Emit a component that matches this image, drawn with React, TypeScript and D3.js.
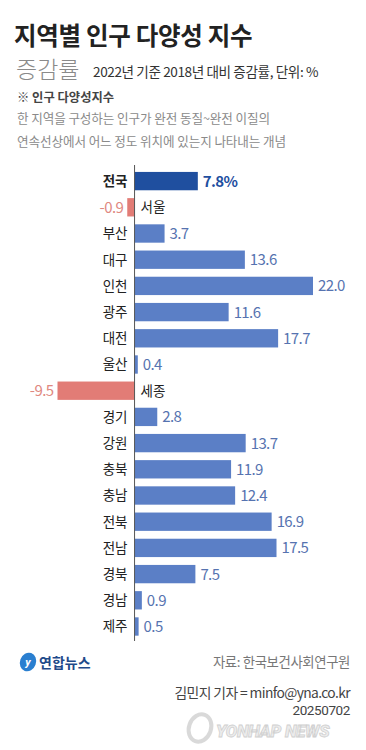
import React from "react";
import * as d3 from "d3";

const regions = ["전국", "서울", "부산", "대구", "인천", "광주", "대전", "울산", "세종", "경기", "강원", "충북", "충남", "전북", "전남", "경북", "경남", "제주"];
const values = [7.8, -0.9, 3.7, 13.6, 22.0, 11.6, 17.7, 0.4, -9.5, 2.8, 13.7, 11.9, 12.4, 16.9, 17.5, 7.5, 0.9, 0.5];

const FONT = "'Noto Sans CJK KR', 'Noto Sans', sans-serif";

export default function App() {
  const W = 366, H = 750;
  const x = d3.scaleLinear().domain([-9.5, 22]).range([57.5, 313]);
  const y = d3.scaleBand<string>().domain(regions).range([168, 639.6]).paddingInner(0.3).paddingOuter(0.15);
  const x0 = x(0);
  const bw = y.bandwidth();

  return (
    <svg width={W} height={H} style={{ position: "absolute", left: 0, top: 0, background: "#fff" }} fontFamily={FONT}>
      <rect width={W} height={H} fill="#fff" />
      {/* title */}
      <text x={14} y={45} fontSize={24.5} fontWeight={700} fill="#222" letterSpacing={-0.3}>지역별 인구 다양성 지수</text>
      <text x={16} y={78} fontSize={23} fontWeight={300} fill="#8a8a8a">증감률</text>
      <text x={93} y={77} fontSize={13.6} fill="#333" letterSpacing={-0.4}>2022년 기준 2018년 대비 증감률, 단위: %</text>
      <text x={17} y={102} fontSize={12.3} fontWeight={700} fill="#444">※ 인구 다양성지수</text>
      <text x={17} y={123} fontSize={12.6} fill="#8a8a8a" letterSpacing={-0.1}>한 지역을 구성하는 인구가 완전 동질~완전 이질의</text>
      <text x={17} y={146} fontSize={12.6} fill="#8a8a8a" letterSpacing={-0.1}>연속선상에서 어느 정도 위치에 있는지 나타내는 개념</text>

      {/* bars */}
      {regions.map((r, i) => {
        const v = values[i];
        const yy = y(r)!;
        const cy = yy + bw / 2;
        const neg = v < 0;
        const isNat = i === 0;
        const fill = isNat ? "#1f4f9f" : neg ? "#e27c76" : "#5b7fc6";
        const bx = neg ? x(v) : x0;
        const w = Math.abs(x(v) - x0);
        return (
          <g key={r}>
            <rect x={bx} y={yy} width={w} height={bw} fill={fill} />
            <text
              x={neg ? x0 + 6 : x0 - 7}
              y={cy}
              dy="0.36em"
              textAnchor={neg ? "start" : "end"}
              fontSize={13.5}
              fontWeight={isNat ? 700 : 400}
              fill="#222"
            >{r}</text>
            <text
              x={neg ? x(v) - 4 : x(v) + 5}
              y={cy}
              dy="0.36em"
              textAnchor={neg ? "end" : "start"}
              fontSize={15}
              fontWeight={isNat ? 700 : 400}
              letterSpacing={-0.6}
              fill={isNat ? "#1f4f9f" : neg ? "#e08880" : "#5673b0"}
            >{isNat ? `${v.toFixed(1)}%` : v.toFixed(1)}</text>
          </g>
        );
      })}
      <line x1={x0} x2={x0} y1={165} y2={641} stroke="#555" strokeWidth={1} />

      {/* footer */}
      <g>
        <ellipse cx={28} cy={662} rx={8} ry={9.5} fill="#2a7fd0" transform="rotate(20 28 662)" />
        <text x={28} y={666} fontSize={11} fontStyle="italic" fontWeight={700} fill="#fff" textAnchor="middle" fontFamily="Roboto, sans-serif">y</text>
        <text x={39} y={668} fontSize={14} fontWeight={700} fill="#1f4a8a">연합뉴스</text>
      </g>
      <text x={350} y={667} fontSize={13.4} fill="#777" textAnchor="end" letterSpacing={-0.4}>자료: 한국보건사회연구원</text>
      <text x={350} y={698} fontSize={13.8} fill="#444" textAnchor="end" letterSpacing={-0.6}>김민지 기자 = minfo@yna.co.kr</text>
      <text x={350} y={715} fontSize={13.5} fill="#444" textAnchor="end" letterSpacing={-0.4} fontFamily="Roboto, sans-serif">20250702</text>
      {/* watermark */}
      <g opacity={0.55}>
        <ellipse cx={200} cy={728} rx={11} ry={14} fill="none" stroke="#bbb" strokeWidth={4} transform="rotate(20 200 728)" />
        <text x={216} y={737} fontSize={17} fontWeight={900} fontStyle="italic" fill="#ddd" stroke="#aaa" strokeWidth={0.8} letterSpacing={-0.3} fontFamily="Roboto, sans-serif">YONHAP NEWS</text>
      </g>
    </svg>
  );
}
